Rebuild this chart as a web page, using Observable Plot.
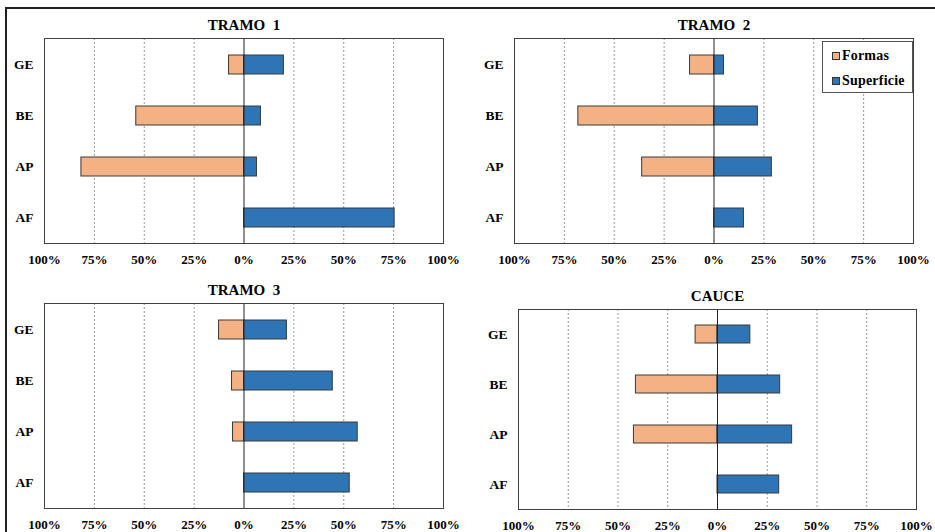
<!DOCTYPE html>
<html>
<head>
<meta charset="utf-8">
<script src="https://cdn.jsdelivr.net/npm/d3@7"></script>
<script src="https://cdn.jsdelivr.net/npm/@observablehq/plot@0.6"></script>
<style>
  html, body { margin: 0; padding: 0; background: #fff; }
  #page { position: relative; width: 935px; height: 532px; overflow: hidden; background: #fff;
          font-family: "Liberation Serif", "Times New Roman", serif; }
  #border { position: absolute; left: 5px; top: 7px; width: 2000px; height: 2000px;
            border-left: 2px solid #222; border-top: 2px solid #222; }
  .panel { position: absolute; }
  .panel svg { overflow: visible; }
  #legend { position: absolute; left: 822px; top: 41px; width: 89px; height: 50px;
            border: 1px solid #555; background: #fff; font-weight: bold; font-size: 14px; letter-spacing: 0.2px; }
  #legend .item { position: absolute; left: 9px; display: flex; align-items: center; gap: 2px; line-height: 16px; }
  #legend .sw { width: 6px; height: 6px; border: 1px solid #333; }
</style>
</head>
<body>
<div id="page">
  <div id="border"></div>
</div>
<script>
// Categories and series (percent of each class)
const categories = ["GE", "BE", "AP", "AF"];
const series = ["Formas", "Superficie"];
const seriesColors = ["#F4B183", "#2E75B6"];
const panelTitles = ["TRAMO  1", "TRAMO  2", "TRAMO  3", "CAUCE"];
const tickValues = [-100, -75, -50, -25, 0, 25, 50, 75, 100];
const gridValues = [-75, -50, -25, 25, 50, 75];

const tramo1Formas = [7.5, 54, 81.5, 0];
const tramo1Superficie = [20, 8.5, 6.5, 75.5];
const tramo2Formas = [12, 68, 36, 0];
const tramo2Superficie = [5, 22, 29, 15];
const tramo3Formas = [12.5, 6, 5.5, 0];
const tramo3Superficie = [21.5, 44.5, 57, 53];
const cauceFormas = [11, 41, 42, 0];
const cauceSuperficie = [16.5, 31.5, 37.5, 31];

const panelData = [
  [tramo1Formas, tramo1Superficie],
  [tramo2Formas, tramo2Superficie],
  [tramo3Formas, tramo3Superficie],
  [cauceFormas, cauceSuperficie]
];

// Panel placement on the page and plot margins
const layout = [
  {left: 0,   top: 0,   width: 467, height: 272, mL: 44, mR: 24, mT: 38, mB: 29},
  {left: 470, top: 0,   width: 465, height: 272, mL: 44, mR: 22, mT: 38, mB: 29},
  {left: 0,   top: 265, width: 467, height: 267, mL: 44, mR: 24, mT: 38, mB: 24},
  {left: 470, top: 265, width: 465, height: 267, mL: 48, mR: 19, mT: 44, mB: 23}
];

function rowsFor(i) {
  const [formas, superficie] = panelData[i];
  const rows = [];
  categories.forEach((c, j) => {
    if (formas[j] > 0) rows.push({cat: c, serie: series[0], value: -formas[j]});
    if (superficie[j] > 0) rows.push({cat: c, serie: series[1], value: superficie[j]});
  });
  return rows;
}

const page = document.getElementById("page");

panelTitles.forEach((title, i) => {
  const L = layout[i];
  const chart = Plot.plot({
    width: L.width,
    height: L.height,
    marginLeft: L.mL,
    marginRight: L.mR,
    marginTop: L.mT,
    marginBottom: L.mB,
    style: {fontFamily: "'Liberation Serif', 'Times New Roman', serif", fontSize: "13px", fontWeight: "bold", color: "#000", background: "transparent"},
    x: {domain: [-100, 100]},
    y: {domain: categories, padding: 0},
    color: {domain: series, range: seriesColors},
    marks: [
      Plot.gridX(gridValues, {stroke: "#7f7f7f", strokeOpacity: 1, strokeWidth: 0.8, strokeDasharray: "2,2"}),
      Plot.barX(rowsFor(i), {y: "cat", x: "value", fill: "serie", stroke: "#3a3a3a", strokeWidth: 1, insetTop: 16, insetBottom: 16}),
      Plot.ruleX([0], {stroke: "#222", strokeWidth: 1}),
      Plot.frame({stroke: "#404040", strokeWidth: 1}),
      Plot.axisX({ticks: tickValues, tickSize: 0, tickPadding: 11, tickFormat: d => Math.abs(d) + "%", label: null, fontSize: 13}),
      Plot.axisY({tickSize: 0, tickPadding: 11, label: null, fontSize: 13.5}),
      Plot.text([title], {frameAnchor: "top", dy: -13, fontSize: 15, fontWeight: "bold", lineAnchor: "middle"})
    ]
  });
  const holder = document.createElement("div");
  holder.className = "panel";
  holder.style.left = L.left + "px";
  holder.style.top = L.top + "px";
  holder.appendChild(chart);
  page.appendChild(holder);
});

// Legend for the two series
const legend = document.createElement("div");
legend.id = "legend";
series.forEach((s, k) => {
  const item = document.createElement("div");
  item.className = "item";
  item.style.top = (k === 0 ? 6 : 31) + "px";
  const sw = document.createElement("span");
  sw.className = "sw";
  sw.style.background = seriesColors[k];
  const label = document.createElement("span");
  label.textContent = s;
  item.appendChild(sw);
  item.appendChild(label);
  legend.appendChild(item);
});
page.appendChild(legend);
</script>
</body>
</html>
